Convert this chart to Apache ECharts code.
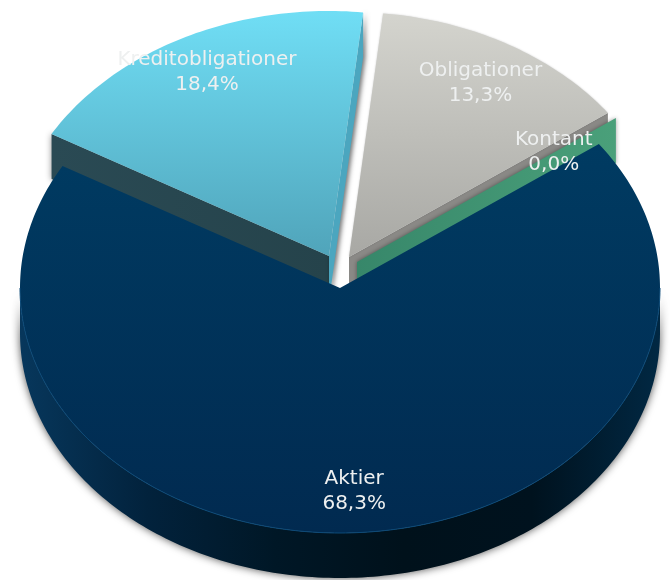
<!DOCTYPE html>
<html>
<head>
<meta charset="utf-8">
<style>html,body{margin:0;padding:0;background:#fff}#chart{width:671px;height:580px}</style>
<script src="https://cdn.jsdelivr.net/npm/echarts@6/dist/echarts.min.js"></script>
</head>
<body>
<div id="chart"></div>
<script>
// Portfolio allocation, as percentages, clockwise from the first slice
const categories = ['Aktier', 'Kreditobligationer', 'Obligationer', 'Kontant'];
const shares = [68.3, 18.4, 13.3, 0.0];

// Projection of the tilted disc
const radiusX = 320, radiusY = 245, depth = 45, startAngle = 54;

// Where each slice's apex sits once pulled out of the disc
const apexes = [[340, 288], [329, 256], [349, 257], [357, 262]];
const labelReach = [0.83, 0.84, 0.82, 0.76];

const vertical = (a, b) => ({type: 'linear', x: 0, y: 0, x2: 0, y2: 1,
  colorStops: [{offset: 0, color: a}, {offset: 1, color: b}]});
const horizontal = (stops) => ({type: 'linear', x: 0, y: 0, x2: 1, y2: 0,
  colorStops: stops.map((c, i) => ({offset: i / (stops.length - 1), color: c}))});

const faceFill = [
  vertical('#003b62', '#012a50'),
  vertical('#70def5', '#50a4ba'),
  vertical('#d4d4ce', '#a8a8a4'),
  '#4a9d78'
];

// Point on a slice's rim, angle in degrees clockwise from twelve o'clock
function rim(apex, deg, drop) {
  const t = deg * Math.PI / 180;
  return [apex[0] + radiusX * Math.sin(t), apex[1] - radiusY * Math.cos(t) + (drop || 0)];
}
function arc(apex, from, to, drop) {
  const pts = [], steps = Math.max(1, Math.ceil(Math.abs(to - from)));
  for (let i = 0; i <= steps; i++) pts.push(rim(apex, from + (to - from) * i / steps, drop));
  return pts;
}
const sunk = (p) => [p[0], p[1] + depth];
const poly = (points, style, z2) => ({type: 'polygon', shape: {points}, style, z2, silent: true});

function renderSlice(params, api) {
  const i = params.dataIndex;
  const value = api.value(0);
  let before = 0;
  for (let k = 0; k < i; k++) before += shares[k];
  const from = startAngle + before * 3.6;
  const to = from + value * 3.6;
  const mid = (from + to) / 2;
  const apex = apexes[i];
  const a = rim(apex, from), b = rim(apex, to);
  const children = [];

  if (i === 0) {
    // Visible outer wall of the large slice, then its face and lit edge
    const top = arc(apex, 90, 270);
    const bottom = arc(apex, 270, 90, depth);
    children.push(poly(top.concat(bottom), {
      fill: horizontal(['#07375c', '#02223c', '#001726', '#00111b', '#00121e', '#012843']),
      shadowBlur: 8, shadowColor: 'rgba(0,0,0,0.7)'
    }, 60));
    children.push(poly([apex].concat(arc(apex, from, to)), {fill: faceFill[0]}, 70));
    children.push({type: 'polyline', shape: {points: arc(apex, 90, 270)},
      style: {stroke: '#0c4a78', lineWidth: 1, fill: null}, z2: 71, silent: true});
  } else if (i === 1) {
    // Cut walls either side of the face
    children.push(poly([a, apex, sunk(apex), sunk(a)], {
      fill: horizontal(['#2a4a54', '#25434b']),
      shadowBlur: 6, shadowColor: 'rgba(0,0,0,0.45)'
    }, 10));
    children.push(poly([b, apex, sunk(apex), sunk(b)], {
      fill: '#4ba6bf', shadowBlur: 5, shadowOffsetX: 2, shadowColor: 'rgba(0,0,0,0.6)'
    }, 10));
    children.push(poly([apex].concat(arc(apex, from, to)), {fill: faceFill[1]}, 20));
  } else if (i === 2) {
    children.push(poly([b, apex, sunk(apex), sunk(b)], {fill: '#8a8986'}, 30));
    children.push(poly([apex].concat(arc(apex, from, to)), {
      fill: faceFill[2], shadowBlur: 2, shadowColor: 'rgba(0,0,0,0.2)'
    }, 40));
  } else {
    // A slice of no width shows only its cut wall
    children.push(poly([b, apex, sunk(apex), sunk(b)], {
      fill: horizontal(['#37876a', '#4aa07a']),
      shadowBlur: 4, shadowColor: 'rgba(0,0,0,0.4)'
    }, 50));
  }

  const t = mid * Math.PI / 180, reach = labelReach[i];
  children.push({
    type: 'text', z2: 100, silent: true,
    x: apex[0] + radiusX * reach * Math.sin(t),
    y: apex[1] - radiusY * reach * Math.cos(t),
    style: {
      text: categories[i] + '\n' + value.toFixed(1).replace('.', ',') + '%',
      fill: '#eef0f0', font: '20px "DejaVu Sans"', lineHeight: 25,
      align: 'center', verticalAlign: 'middle'
    }
  });
  return {type: 'group', children};
}

const chart = echarts.init(document.getElementById('chart'), null, {renderer: 'canvas'});
chart.setOption({
  animation: false,
  backgroundColor: '#ffffff',
  series: [{
    type: 'custom',
    coordinateSystem: 'none',
    renderItem: renderSlice,
    data: shares.map((v, i) => ({name: categories[i], value: [v]}))
  }]
});
</script>
</body>
</html>
